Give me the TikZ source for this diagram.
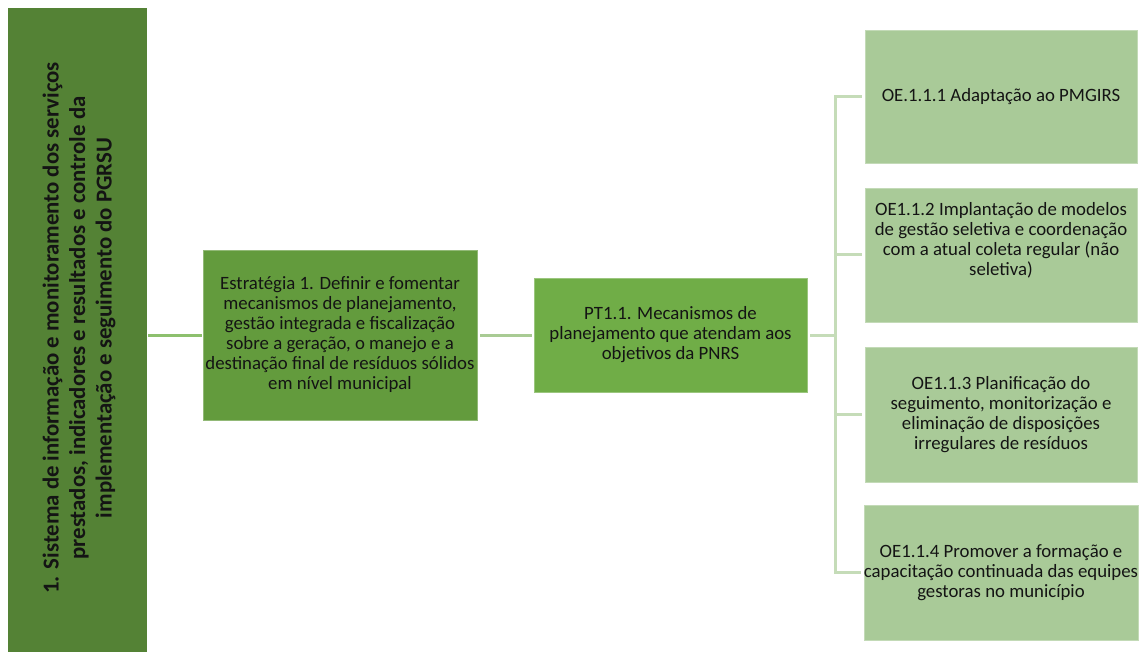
\documentclass[tikz,border=0pt]{standalone}
\usepackage{fontspec}
\setmainfont{Carlito}
\definecolor{gdark}{HTML}{548235}
\definecolor{gmid}{HTML}{639B3D}
\definecolor{gpt}{HTML}{70AD47}
\definecolor{glight}{HTML}{A9CA98}
\definecolor{lnA}{HTML}{8DC06E}
\definecolor{lnB}{HTML}{A9CB94}
\definecolor{lnC}{HTML}{C5DCB8}
\definecolor{ink}{HTML}{141414}
\tikzset{
  box/.style={rectangle, inner sep=0pt, align=center, text=ink,
    font=\fontsize{18.8}{20}\selectfont},
  goalbox/.style={box, fill=gdark},
  stratbox/.style={box, fill=gmid, draw=gmid!70!white, line width=0.6pt},
  ptbox/.style={box, fill=gpt, draw=gpt!70!white, line width=0.6pt},
  oebox/.style={box, fill=glight, draw=glight!70!white, line width=0.6pt,
    minimum width=272pt},
  conA/.style={draw=lnA, line width=3pt},
  conB/.style={draw=lnB, line width=3pt},
  conC/.style={draw=lnC, line width=3pt},
}
\begin{document}
\begin{tikzpicture}[x=1pt, y=-1pt]
\useasboundingbox (0,0) rectangle (1140,652);

% goal column
\node[goalbox, minimum width=139pt, minimum height=644pt] (goal) at (77.5,330) {};
\node[rotate=90, align=center, text=ink,
      font=\fontsize{22.8}{26.5}\selectfont\bfseries] (goaltext) at (79,328)
  {1. Sistema de informação e monitoramento dos serviços\\
   prestados, indicadores e resultados e controle da\\
   implementação e seguimento do PGRSU};

% strategy and programme
\node[stratbox, minimum width=274pt, minimum height=170pt] (strat) at (340,335)
  {Estratégia 1. Definir e fomentar\\ mecanismos de planejamento,\\
   gestão integrada e fiscalização\\ sobre a geração, o manejo e a\\
   destinação final de resíduos sólidos\\ em nível municipal};
\node[ptbox, minimum width=273pt, minimum height=114pt] (pt) at (670.5,335)
  {PT1.1. Mecanismos de\\ planejamento que atendam aos\\ objetivos da PNRS};

% specific objectives
\node[oebox, minimum height=133pt] (oe1) at (1001,96.5)
  {OE.1.1.1 Adaptação ao PMGIRS};
\node[oebox, minimum height=134pt,
      label={[box, yshift=15pt]center:OE1.1.2 Implantação de modelos\\
        de gestão seletiva e coordenação\\ com a atual coleta regular (não\\ seletiva)}]
  (oe2) at (1001,255) {};
\node[oebox, minimum height=135pt] (oe3) at (1001,414.5)
  {OE1.1.3 Planificação do\\ seguimento, monitorização e\\
   eliminação de disposições\\ irregulares de resíduos};
\node[oebox, minimum height=135pt] (oe4) at (1001,572.5)
  {OE1.1.4 Promover a formação e\\ capacitação continuada das equipes\\
   gestoras no município};

% connectors
\coordinate (bus) at (835,335);
\draw[conA, shorten <=1pt, shorten >=1pt] (strat.west -| goal.east) -- (strat.west);
\draw[conB, shorten <=3pt, shorten >=2pt] (strat.east) -- (pt.west);
\draw[conC, shorten <=3pt] (pt.east) -- (bus);
\draw[conC, line cap=rect] (bus |- oe1.west) -- (bus |- oe4.west);
\draw[conC, shorten >=3pt] (bus |- oe1.west) -- (oe1.west);
\draw[conC, shorten >=3pt] (bus |- oe2.west) -- (oe2.west);
\draw[conC, shorten >=3pt] (bus |- oe3.west) -- (oe3.west);
\draw[conC, shorten >=3pt] (bus |- oe4.west) -- (oe4.west);
\end{tikzpicture}
\end{document}
